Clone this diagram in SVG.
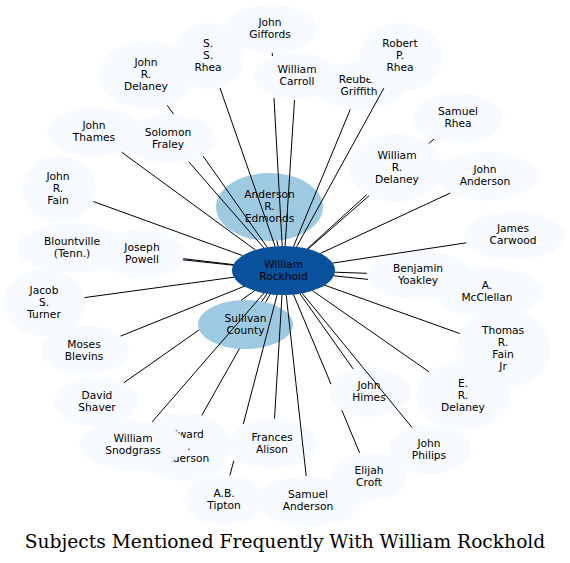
<svg xmlns="http://www.w3.org/2000/svg" width="570" height="563" viewBox="0 0 570 563">
<style>
.lt{fill:#f7fbff}
.md{fill:#9ecae1}
.dk{fill:#08519c}
text{font-family:"DejaVu Sans","Liberation Sans",sans-serif;font-size:10.67px;fill:#000;text-anchor:middle}
.e line{stroke:#000;stroke-width:1}
.title{font-family:"DejaVu Serif","Liberation Serif",serif;font-size:18.67px}
</style>
<rect width="570" height="563" fill="#fff"/>
<g id="nodes">
<g id="n-rockhold"><ellipse class="dk" cx="283.5" cy="270.5" rx="51.5" ry="24.5"/><text x="283.5" y="267.5">William</text><text x="283.5" y="279.5">Rockhold</text></g>
<g id="n-edmonds"><ellipse class="md" cx="269.5" cy="207" rx="53.5" ry="34"/><text x="269.5" y="198">Anderson</text><text x="269.5" y="210">R.</text><text x="269.5" y="222">Edmonds</text></g>
<g id="n-sullivan"><ellipse class="md" cx="245.5" cy="324.5" rx="47.5" ry="24.5"/><text x="245.5" y="321.5">Sullivan</text><text x="245.5" y="333.5">County</text></g>
<g id="n-giffords"><ellipse class="lt" cx="271" cy="29" rx="46" ry="24"/><text x="270" y="26">John</text><text x="270" y="38">Giffords</text></g>
<g id="n-ssrhea"><ellipse class="lt" cx="209" cy="56" rx="35" ry="33"/><text x="208" y="47">S.</text><text x="208" y="59">S.</text><text x="208" y="71">Rhea</text></g>
<g id="n-jrdelaney"><ellipse class="lt" cx="146" cy="75" rx="47" ry="34"/><text x="146" y="66">John</text><text x="146" y="78">R.</text><text x="146" y="90">Delaney</text></g>
<g id="n-carroll"><ellipse class="lt" cx="296" cy="76" rx="42" ry="24"/><text x="297" y="73">William</text><text x="297" y="85">Carroll</text></g>
<g id="n-reuben"><ellipse class="lt" cx="360" cy="86" rx="45" ry="24"/><text x="359" y="83">Reuben</text><text x="359" y="95">Griffith</text></g>
<g id="n-rprhea"><ellipse class="lt" cx="401" cy="57" rx="42" ry="34"/><text x="400" y="47">Robert</text><text x="400" y="59">P.</text><text x="400" y="71">Rhea</text></g>
<g id="n-samrhea"><ellipse class="lt" cx="458" cy="118" rx="45" ry="25"/><text x="458" y="115">Samuel</text><text x="458" y="127">Rhea</text></g>
<g id="n-wrdelaney"><ellipse class="lt" cx="396" cy="168" rx="47" ry="34"/><text x="397" y="159">William</text><text x="397" y="171">R.</text><text x="397" y="183">Delaney</text></g>
<g id="n-janderson"><ellipse class="lt" cx="487" cy="176" rx="51" ry="24.5"/><text x="485" y="173">John</text><text x="485" y="185">Anderson</text></g>
<g id="n-carwood"><ellipse class="lt" cx="514.5" cy="235.5" rx="50.5" ry="24.5"/><text x="513" y="232">James</text><text x="513" y="244">Carwood</text></g>
<g id="n-mcclellan"><ellipse class="lt" cx="488" cy="292" rx="53" ry="25"/><text x="487" y="289">A.</text><text x="487" y="301">McClellan</text></g>
<g id="n-yoakley"><ellipse class="lt" cx="419" cy="275" rx="52" ry="24"/><text x="418" y="272">Benjamin</text><text x="418" y="284">Yoakley</text></g>
<g id="n-tfain"><ellipse class="lt" cx="503" cy="349" rx="47" ry="40"/><text x="503" y="334">Thomas</text><text x="503" y="346">R.</text><text x="503" y="358">Fain</text><text x="503" y="370">Jr</text></g>
<g id="n-erdelaney"><ellipse class="lt" cx="463" cy="395.5" rx="47" ry="34"/><text x="463" y="386.5">E.</text><text x="463" y="398.5">R.</text><text x="463" y="410.5">Delaney</text></g>
<g id="n-philips"><ellipse class="lt" cx="430" cy="449.5" rx="41" ry="24.5"/><text x="429" y="446.5">John</text><text x="429" y="458.5">Philips</text></g>
<g id="n-himes"><ellipse class="lt" cx="369.5" cy="392" rx="40.5" ry="25"/><text x="369" y="389">John</text><text x="369" y="401">Himes</text></g>
<g id="n-croft"><ellipse class="lt" cx="369.5" cy="476.5" rx="37.5" ry="24.5"/><text x="369" y="473.5">Elijah</text><text x="369" y="485.5">Croft</text></g>
<g id="n-samanderson"><ellipse class="lt" cx="309" cy="501" rx="53" ry="25"/><text x="308" y="498">Samuel</text><text x="308" y="510">Anderson</text></g>
<g id="n-alison"><ellipse class="lt" cx="273" cy="443.5" rx="44" ry="25"/><text x="272" y="440.5">Frances</text><text x="272" y="452.5">Alison</text></g>
<g id="n-edward"><ellipse class="lt" cx="184" cy="447" rx="47" ry="34"/><text x="184" y="438">Edward</text><text x="189" y="450">.</text><text x="184" y="462">Anderson</text></g>
<g id="n-tipton"><ellipse class="lt" cx="223.5" cy="500" rx="39.5" ry="25"/><text x="224" y="497">A.B.</text><text x="224" y="509">Tipton</text></g>
<g id="n-snodgrass"><ellipse class="lt" cx="132" cy="445" rx="53" ry="25"/><text x="133" y="442">William</text><text x="133" y="454">Snodgrass</text></g>
<g id="n-shaver"><ellipse class="lt" cx="96.5" cy="402" rx="42.5" ry="25"/><text x="97" y="399">David</text><text x="97" y="411">Shaver</text></g>
<g id="n-blevins"><ellipse class="lt" cx="85" cy="350.5" rx="44" ry="24.5"/><text x="84" y="347.5">Moses</text><text x="84" y="359.5">Blevins</text></g>
<g id="n-turner"><ellipse class="lt" cx="44.5" cy="303" rx="40.5" ry="33.5"/><text x="44" y="294">Jacob</text><text x="44" y="306">S.</text><text x="44" y="318">Turner</text></g>
<g id="n-blountville"><ellipse class="lt" cx="72" cy="248" rx="55" ry="25"/><text x="72" y="245">Blountville</text><text x="72" y="257">(Tenn.)</text></g>
<g id="n-powell"><ellipse class="lt" cx="143" cy="254" rx="41" ry="25"/><text x="142" y="251">Joseph</text><text x="142" y="263">Powell</text></g>
<g id="n-jrfain"><ellipse class="lt" cx="59" cy="189" rx="37" ry="33.5"/><text x="58" y="180">John</text><text x="58" y="192">R.</text><text x="58" y="204">Fain</text></g>
<g id="n-thames"><ellipse class="lt" cx="94" cy="132" rx="47" ry="25"/><text x="94" y="129">John</text><text x="94" y="141">Thames</text></g>
<g id="n-fraley"><ellipse class="lt" cx="169" cy="139" rx="47" ry="25"/><text x="168" y="136">Solomon</text><text x="168" y="148">Fraley</text></g>
</g>
<g id="edges" class="e">
<line x1="275.1" y1="246.3" x2="220" y2="88"/>
<line x1="282.2" y1="246" x2="274" y2="98"/>
<line x1="272.2" y1="53" x2="272.4" y2="56"/>
<line x1="285.1" y1="246" x2="294.5" y2="100"/>
<line x1="293.5" y1="246.5" x2="350.3" y2="109.4"/>
<line x1="296.6" y1="246.8" x2="383.9" y2="88.1"/>
<line x1="308.1" y1="249" x2="369" y2="195.8"/>
<line x1="428.7" y1="143.6" x2="434" y2="139"/>
<line x1="307.3" y1="248.8" x2="366.8" y2="194.6"/>
<line x1="320.4" y1="253.4" x2="450.3" y2="193"/>
<line x1="332.6" y1="263.1" x2="466.3" y2="242.8"/>
<line x1="334.9" y1="272.2" x2="367.1" y2="273.3"/>
<line x1="333.8" y1="275.8" x2="368" y2="279.4"/>
<line x1="324.7" y1="285.2" x2="459.7" y2="333.5"/>
<line x1="312.5" y1="290.7" x2="429.1" y2="371.9"/>
<line x1="302.2" y1="293.3" x2="412" y2="427.5"/>
<line x1="299.9" y1="293.7" x2="353.3" y2="369.1"/>
<line x1="293.5" y1="294.5" x2="331" y2="384.2"/>
<line x1="341.8" y1="410.2" x2="359.6" y2="452.9"/>
<line x1="286.2" y1="295" x2="306.2" y2="476"/>
<line x1="282" y1="295" x2="274.5" y2="418.5"/>
<line x1="277.1" y1="294.8" x2="243.3" y2="424"/>
<line x1="233.7" y1="461" x2="229.9" y2="475.3"/>
<line x1="270.2" y1="294.2" x2="265.5" y2="302.4"/>
<line x1="239.4" y1="348.7" x2="201.7" y2="415.5"/>
<line x1="263.8" y1="293.2" x2="152.1" y2="421.9"/>
<line x1="267.1" y1="293.7" x2="261.7" y2="301.5"/>
<line x1="254.6" y1="290.8" x2="241.2" y2="300.2"/>
<line x1="199.2" y1="329.8" x2="123.8" y2="382.8"/>
<line x1="244.2" y1="286.3" x2="120.6" y2="336.1"/>
<line x1="234" y1="277.2" x2="84.5" y2="297.6"/>
<line x1="233.5" y1="264.6" x2="183.3" y2="258.7"/>
<line x1="233.2" y1="265.2" x2="182.8" y2="259.8"/>
<line x1="242.6" y1="255.6" x2="93.3" y2="201.5"/>
<line x1="255.4" y1="250" x2="121.7" y2="152.2"/>
<line x1="263.8" y1="247.9" x2="188.7" y2="161.7"/>
<line x1="267.2" y1="247.3" x2="203.1" y2="156.1"/>
<line x1="173.5" y1="114.1" x2="167.3" y2="105.3"/>
<line x1="278.1" y1="246.1" x2="276.9" y2="240.7"/>
</g>
<text class="title" x="285" y="548">Subjects Mentioned Frequently With William Rockhold</text>
</svg>
